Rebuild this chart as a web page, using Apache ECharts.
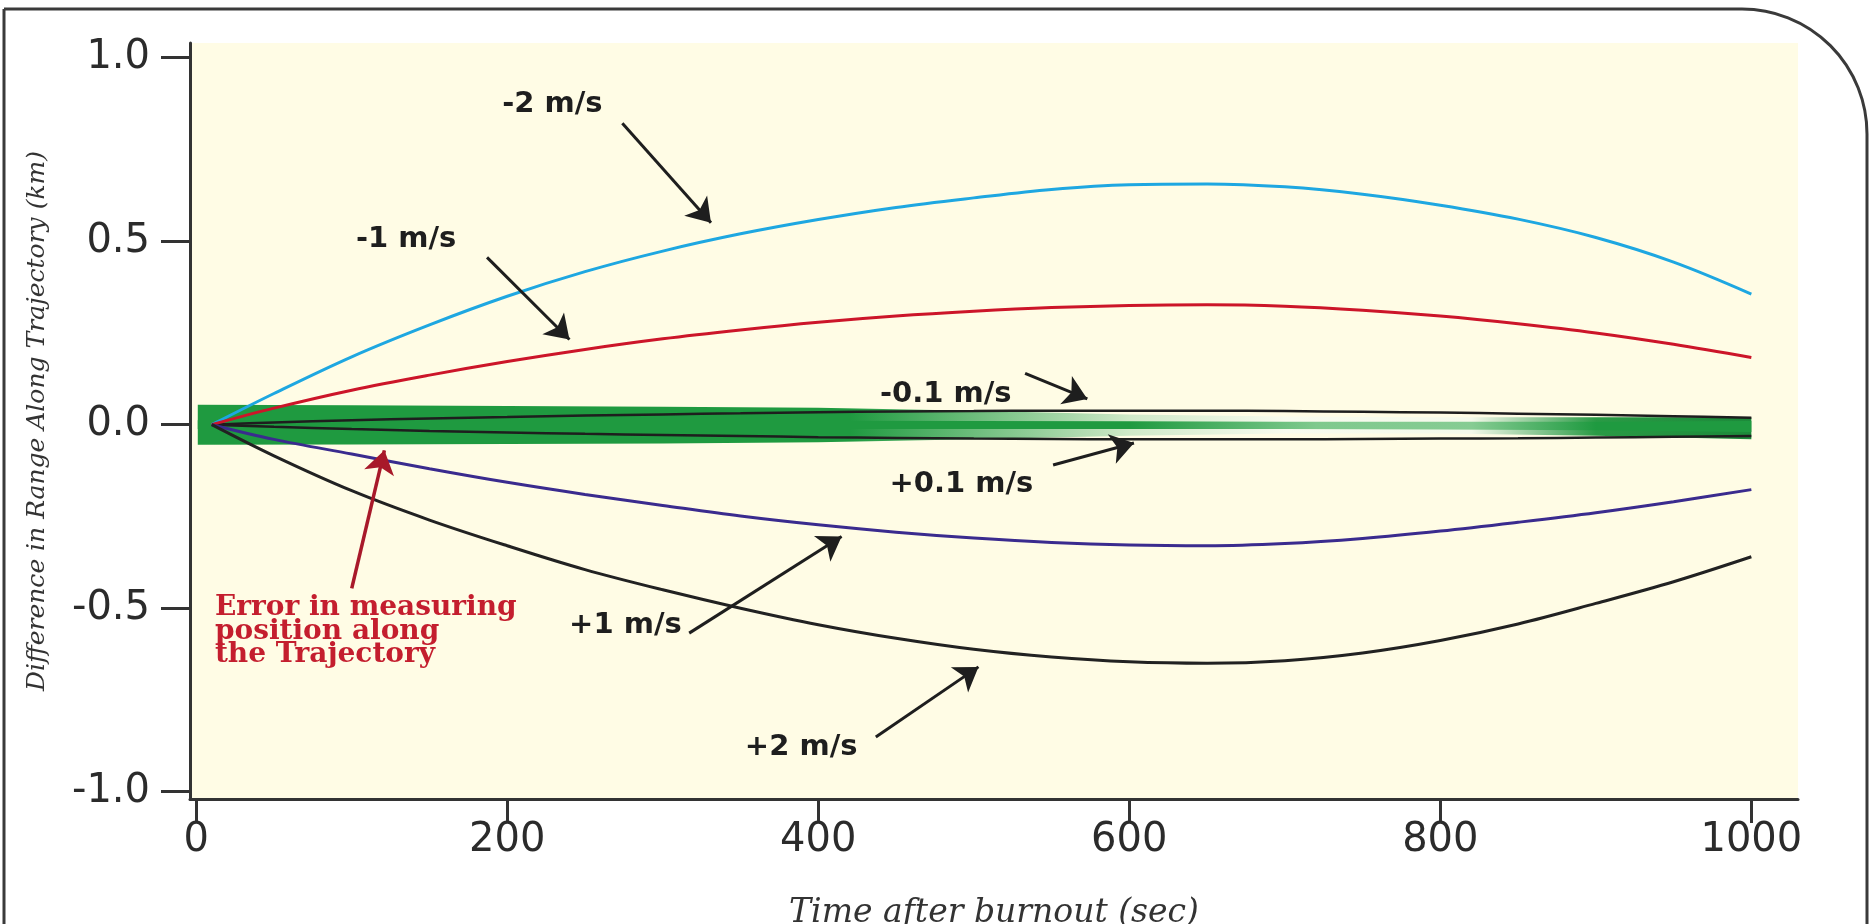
<!DOCTYPE html>
<html><head><meta charset="utf-8">
<script src="https://cdn.jsdelivr.net/npm/echarts@6/dist/echarts.min.js"></script>
<style>html,body{margin:0;padding:0;background:#fff;overflow:hidden}#c{width:1873px;height:924px;}</style>
</head><body><div id="c"></div>
<script>
// ---- data ----
const times   = [10, 50, 100, 150, 200, 250, 300, 350, 400, 450, 500, 550, 600, 650, 700, 750, 800, 850, 900, 950, 1000];
const minus2  = [0, 0.085, 0.185, 0.272, 0.35, 0.417, 0.473, 0.52, 0.559, 0.592, 0.618, 0.641, 0.654, 0.656, 0.648, 0.628, 0.598, 0.56, 0.51, 0.443, 0.356];
const minus1  = [0, 0.045, 0.094, 0.135, 0.172, 0.205, 0.234, 0.258, 0.279, 0.296, 0.309, 0.319, 0.325, 0.327, 0.323, 0.312, 0.296, 0.275, 0.25, 0.219, 0.183];
const minus01 = [0, 0.006, 0.012, 0.017, 0.021, 0.025, 0.028, 0.031, 0.034, 0.036, 0.037, 0.038, 0.038, 0.038, 0.037, 0.035, 0.033, 0.03, 0.027, 0.023, 0.019];
const plus01  = [0, -0.006, -0.012, -0.017, -0.021, -0.025, -0.028, -0.031, -0.034, -0.036, -0.038, -0.039, -0.04, -0.04, -0.04, -0.039, -0.038, -0.037, -0.035, -0.033, -0.031];
const plus1   = [0, -0.04, -0.08, -0.12, -0.157, -0.19, -0.22, -0.249, -0.273, -0.293, -0.309, -0.321, -0.328, -0.33, -0.324, -0.31, -0.29, -0.266, -0.24, -0.21, -0.177];
const plus2   = [0, -0.085, -0.18, -0.26, -0.33, -0.395, -0.45, -0.5, -0.545, -0.582, -0.612, -0.633, -0.646, -0.65, -0.643, -0.622, -0.588, -0.543, -0.487, -0.428, -0.36];

// measurement-error band (green)
const bandX      = [1, 100, 200, 300, 400, 500, 600, 700, 800, 900, 1000];
const bandTop    = [0.054, 0.053, 0.051, 0.049, 0.046, 0.038, 0.028, 0.022, 0.02, 0.02, 0.02];
const bandBottom = [-0.055, -0.054, -0.053, -0.051, -0.048, -0.04, -0.03, -0.024, -0.024, -0.03, -0.04];
const coreTop    = [0.012, 0.012, 0.012, 0.011, 0.011, 0.01, 0.009, 0.008, 0.008, 0.008, 0.01];
const coreBottom = [-0.012, -0.012, -0.012, -0.012, -0.012, -0.012, -0.012, -0.012, -0.013, -0.015, -0.02];

const xTicks = [0, 200, 400, 600, 800, 1000];
const yTicks = [-1, -0.5, 0, 0.5, 1];

// annotations (data coordinates)
const noteTexts = ['-2 m/s', '-1 m/s', '-0.1 m/s', '+0.1 m/s', '+1 m/s', '+2 m/s'];
const notePos   = [[229, 0.873], [135, 0.505], [482, 0.083], [492, -0.162], [276, -0.546], [389, -0.879]];
const arrowFrom = [[274, 0.821], [187, 0.456], [533, 0.14], [551, -0.11], [317, -0.568], [437, -0.851]];
const arrowTo   = [[331, 0.55], [240, 0.232], [573, 0.07], [603, -0.05], [415, -0.305], [503, -0.66]];
const errText   = 'Error in measuring\nposition along\nthe Trajectory';
const errPos    = [12, -0.563];
const errArrow  = [[100, -0.446], [121, -0.07]];

// ---- build ----
const pairs = ys => times.map((t, i) => [t, ys[i]]);

const G = '#1f9a40';
const outerGrad = new echarts.graphic.LinearGradient(0, 0, 1, 0, [
  {offset: 0, color: G}, {offset: 0.42, color: G}, {offset: 0.6, color: '#cfe9c8'},
  {offset: 0.7, color: '#f8fbee'}, {offset: 0.82, color: '#f4f9ea'}, {offset: 0.9, color: '#2a9a45'},
  {offset: 1, color: '#1c8a3a'}]);
const coreGrad = new echarts.graphic.LinearGradient(0, 0, 1, 0, [
  {offset: 0, color: G}, {offset: 0.6, color: G}, {offset: 0.72, color: '#7fc98d'},
  {offset: 0.82, color: '#86cc93'}, {offset: 0.9, color: G}, {offset: 1, color: G}]);

function bandSeries(name, top, bottom, fill, z) {
  return {
    name, type: 'custom', z, silent: true,
    data: bandX.map((x, i) => [x, top[i], bottom[i]]),
    encode: {x: 0, y: [1, 2]},
    renderItem: (params, api) => {
      if (params.dataIndex !== 0) return null;
      const pts = [];
      for (let i = 0; i < bandX.length; i++) pts.push(api.coord([bandX[i], top[i]]));
      for (let i = bandX.length - 1; i >= 0; i--) pts.push(api.coord([bandX[i], bottom[i]]));
      return {type: 'polygon', shape: {points: pts}, style: {fill}};
    }
  };
}

function line(name, ys, color, width) {
  return {name, type: 'line', data: pairs(ys), showSymbol: false, smooth: 0.35,
    lineStyle: {color, width}, itemStyle: {color}, z: 3};
}

const annoSeries = {
  name: 'notes', type: 'line', data: [], showSymbol: false, z: 6,
  markLine: {
    silent: true, symbol: ['none', 'arrow'], symbolSize: 23, animation: false,
    label: {show: false},
    lineStyle: {color: '#1e1e1e', width: 3, type: 'solid'},
    data: arrowFrom.map((p, i) => [{coord: p}, {coord: arrowTo[i]}]).concat([
      [{coord: errArrow[0], lineStyle: {color: '#a8192a', width: 3.5}},
       {coord: errArrow[1], lineStyle: {color: '#a8192a', width: 3.5}}]])
  },
  markPoint: {
    silent: true, symbol: 'circle', symbolSize: 0, animation: false,
    itemStyle: {color: 'rgba(0,0,0,0)'},
    label: {show: true, position: 'inside', fontFamily: 'DejaVu Sans', fontWeight: 'bold',
      fontSize: 29, color: '#1e1e1e', formatter: p => p.name},
    data: noteTexts.map((t, i) => ({name: t, coord: notePos[i]})).concat([{
      name: errText, coord: errPos,
      label: {position: [0, 0], align: 'left', verticalAlign: 'middle', fontFamily: 'DejaVu Serif',
        fontWeight: 'bold', fontSize: 28, lineHeight: 23.5, color: '#c41e2e'}
    }])
  }
};

const chart = echarts.init(document.getElementById('c'), null, {renderer: 'canvas'});
chart.setOption({
  animation: false,
  backgroundColor: '#ffffff',
  grid: {left: 190, right: 75, top: 43, bottom: 125, show: true, backgroundColor: '#fffce5',
    borderWidth: 0, containLabel: false, outerBoundsMode: 'none'},
  xAxis: {
    type: 'value', min: -4, max: 1030, splitLine: {show: false},
    axisLine: {show: true, onZero: false, lineStyle: {color: '#333', width: 3}},
    axisTick: {show: true, customValues: xTicks, length: 24, lineStyle: {color: '#333', width: 3}},
    axisLabel: {customValues: xTicks, fontFamily: 'DejaVu Sans', fontSize: 40, color: '#2b2b2b', margin: 22,
      formatter: v => String(v)},
    name: 'Time after burnout (sec)', nameLocation: 'middle', nameGap: 98,
    nameTextStyle: {fontFamily: 'DejaVu Serif', fontStyle: 'italic', fontSize: 33, color: '#333'}
  },
  yAxis: {
    type: 'value', min: -1.02, max: 1.04, splitLine: {show: false},
    axisLine: {show: true, onZero: false, lineStyle: {color: '#333', width: 3}},
    axisTick: {show: true, customValues: yTicks, length: 29, lineStyle: {color: '#333', width: 3}},
    axisLabel: {customValues: yTicks, fontFamily: 'DejaVu Sans', fontSize: 40, color: '#2b2b2b', margin: 40,
      formatter: v => v.toFixed(1)},
    name: 'Difference in Range Along Trajectory (km)', nameLocation: 'middle', nameGap: 140,
    nameTextStyle: {fontFamily: 'DejaVu Serif', fontStyle: 'italic', fontSize: 25, color: '#333'}
  },
  series: [
    bandSeries('Error band', bandTop, bandBottom, outerGrad, 1),
    bandSeries('Error core', coreTop, coreBottom, coreGrad, 2),
    line('-0.1 m/s', minus01, '#1e1e1e', 2.5),
    line('+0.1 m/s', plus01, '#1e1e1e', 2.5),
    line('-2 m/s', minus2, '#1ea7e1', 3),
    line('-1 m/s', minus1, '#cc1529', 3),
    line('+1 m/s', plus1, '#3a2b8e', 3),
    line('+2 m/s', plus2, '#222222', 3),
    annoSeries
  ],
  graphic: [{
    type: 'rect', silent: true, z: 100,
    shape: {x: 4, y: 9, width: 1863, height: 980, r: [0, 125, 0, 0]},
    style: {fill: null, stroke: '#3a3a3a', lineWidth: 3}
  }]
});
</script></body></html>
